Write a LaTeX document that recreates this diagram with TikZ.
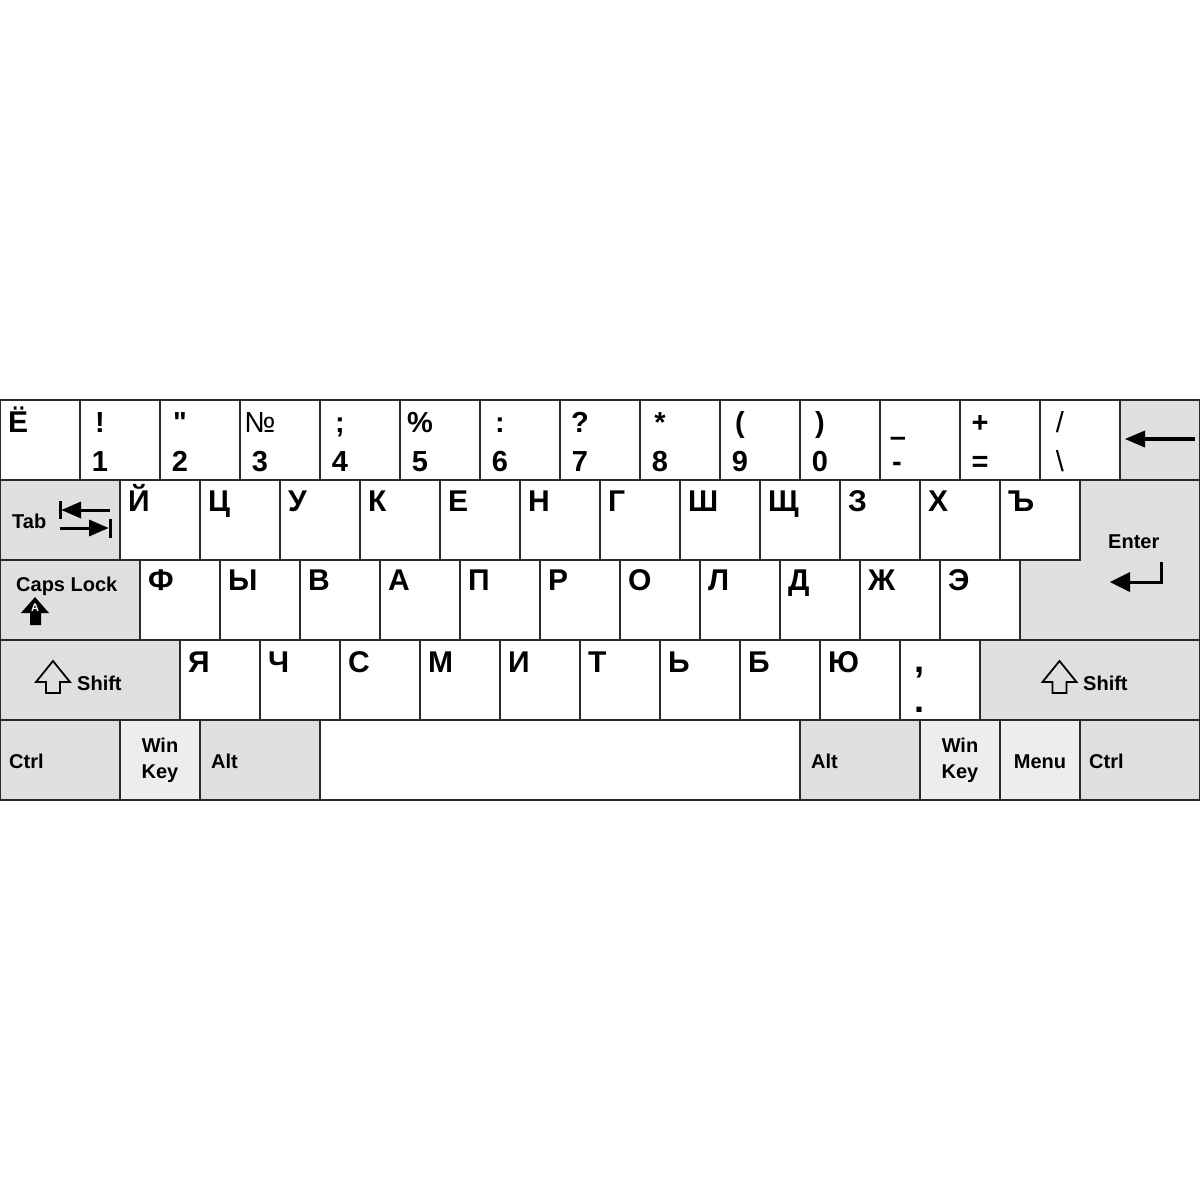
\documentclass[tikz,border=0pt]{standalone}
\usepackage{fontspec}
\setmainfont{Liberation Sans}
\newfontfamily\qfont{Liberation Sans}[Ligatures=TeXOff]
\usetikzlibrary{calc}
\definecolor{keygray}{HTML}{DFDFDF}
\definecolor{keylight}{HTML}{EDEDED}
\definecolor{keyline}{HTML}{2A2A2A}
\tikzset{
  keybox/.style={draw=keyline, line width=1.5pt, fill=white, rectangle, inner sep=0pt, outer sep=0pt, minimum height=80pt, anchor=north west},
  graykey/.style={keybox, fill=keygray},
  lightkey/.style={keybox, fill=keylight},
  biglab/.style={font=\fontsize{30}{30}\selectfont\bfseries, inner sep=0pt, anchor=base west},
  symlab/.style={font=\fontsize{29}{29}\selectfont\bfseries, inner sep=0pt, anchor=base},
  punclab/.style={font=\fontsize{36}{36}\selectfont\bfseries, inner sep=0pt, anchor=base},
  smalllab/.style={font=\fontsize{20}{20}\selectfont\bfseries, inner sep=0pt, anchor=base west},
  smallc/.style={font=\fontsize{20}{20}\selectfont\bfseries, inner sep=0pt, anchor=base},
  icon/.style={fill=black, draw=none},
  iconline/.style={draw=black, line width=3pt},
  outlinearrow/.style={draw=black, line width=1.8pt, fill=keygray, line join=miter},
}
\newcommand\tkey[4]{%
  \node[keybox, minimum width=80pt] (#1) at (#2,400) {};
  \node[symlab] at ($(#1.north west)+(20,32)$) {#3};
  \node[symlab] at ($(#1.north west)+(20,71)$) {#4};}
\newcommand\lkey[5]{%
  \node[keybox, minimum width=80pt] (#1) at (#2,#3) {};
  \node[biglab] at ($(#1.north west)+(8,#4)$) {#5};}
\begin{document}
\begin{tikzpicture}[x=1pt,y=-1pt]
\useasboundingbox (0,0) rectangle (1200,1200);
\fill[white] (0,0) rectangle (1200,1200);

% ---------- Row 1 ----------
\node[keybox, minimum width=80pt] (kyo) at (0,400) {};
\node[biglab] at ($(kyo.north west)+(8,32)$) {Ё};
\tkey{k1}{80}{!}{1}
\tkey{k2}{160}{\qfont\bfseries "}{2}
\tkey{k3}{240}{\mdseries №}{3}
\tkey{k4}{320}{;}{4}
\tkey{k5}{400}{\%}{5}
\tkey{k6}{480}{:}{6}
\tkey{k7}{560}{?}{7}
\tkey{k8}{640}{*}{8}
\tkey{k9}{720}{(}{9}
\tkey{k0}{800}{)}{0}
\node[keybox, minimum width=80pt] (kminus) at (880,400) {};
\node[symlab] at ($(kminus.north west)+(18,46)$) {\textendash};
\node[symlab] at ($(kminus.north west)+(17,71)$) {-};
\tkey{kequal}{960}{+}{=}
\tkey{kslash}{1040}{\mdseries /}{\mdseries \textbackslash}
\node[graykey, minimum width=80pt] (bksp) at (1120,400) {};
\begin{scope}[shift={(bksp.north west)}]
  \fill[icon] (5,39) -- (25,30.5) -- (25,47.5) -- cycle;
  \draw[iconline, line width=3.5pt] (22,39) -- (75,39);
\end{scope}

% ---------- Row 2 ----------
\node[graykey, minimum width=120pt] (tab) at (0,480) {};
\node[smalllab] at ($(tab.north west)+(12,48)$) {Tab};
\begin{scope}[shift={(tab.north west)}]
  \draw[iconline] (60,21) -- (60,39);
  \fill[icon] (61.5,30) -- (81,21.5) -- (81,38.5) -- cycle;
  \draw[iconline, line width=3pt] (78,30) -- (110,30);
  \draw[iconline, line width=3pt] (60,48) -- (92,48);
  \fill[icon] (108.5,48) -- (89,39.5) -- (89,56.5) -- cycle;
  \draw[iconline] (110,39) -- (110,58);
\end{scope}
\lkey{kJ}{120}{480}{31}{Й}
\lkey{kC}{200}{480}{31}{Ц}
\lkey{kU}{280}{480}{31}{У}
\lkey{kK}{360}{480}{31}{К}
\lkey{kE}{440}{480}{31}{Е}
\lkey{kN}{520}{480}{31}{Н}
\lkey{kG}{600}{480}{31}{Г}
\lkey{kSh}{680}{480}{31}{Ш}
\lkey{kSch}{760}{480}{31}{Щ}
\lkey{kZ}{840}{480}{31}{З}
\lkey{kH}{920}{480}{31}{Х}
\lkey{kHard}{1000}{480}{31}{Ъ}

% ---------- Enter ----------
\coordinate (enter) at (1080,480);
\draw[draw=keyline, line width=1.5pt, fill=keygray]
  (enter) -- ++(120,0) -- ++(0,160) -- ++(-180,0) -- ++(0,-80) -- ++(60,0) -- cycle;
\begin{scope}[shift={(enter)}]
  \node[smalllab] at (28,68) {Enter};
  \draw[iconline, line join=miter] (81,82) -- (81,102) -- (47,102);
  \fill[icon] (30,102) -- (50,92) -- (50,112) -- cycle;
\end{scope}

% ---------- Row 3 ----------
\node[graykey, minimum width=140pt] (caps) at (0,560) {};
\node[smalllab] at ($(caps.north west)+(16,31)$) {Caps Lock};
\begin{scope}[shift={(caps.north west)}]
  \fill[icon] (35,37) -- (49,53) -- (41,53) -- (41,65) -- (30,65) -- (30,53) -- (21,53) -- cycle;
  \node[font=\fontsize{11}{11}\selectfont\bfseries, text=white, inner sep=0pt, anchor=base] at (35,51) {A};
\end{scope}
\lkey{kF}{140}{560}{30}{Ф}
\lkey{kY}{220}{560}{30}{Ы}
\lkey{kV}{300}{560}{30}{В}
\lkey{kA}{380}{560}{30}{А}
\lkey{kP}{460}{560}{30}{П}
\lkey{kR}{540}{560}{30}{Р}
\lkey{kO}{620}{560}{30}{О}
\lkey{kL}{700}{560}{30}{Л}
\lkey{kD}{780}{560}{30}{Д}
\lkey{kZh}{860}{560}{30}{Ж}
\lkey{kEe}{940}{560}{30}{Э}

% ---------- Row 4 ----------
\node[graykey, minimum width=180pt] (lshift) at (0,640) {};
\begin{scope}[shift={(lshift.north west)}]
  \draw[outlinearrow] (53,21) -- (70,42) -- (60,42) -- (60,53) -- (46,53) -- (46,42) -- (36,42) -- cycle;
  \node[smalllab] at (77,50) {Shift};
\end{scope}
\lkey{kYa}{180}{640}{32}{Я}
\lkey{kCh}{260}{640}{32}{Ч}
\lkey{kS}{340}{640}{32}{С}
\lkey{kM}{420}{640}{32}{М}
\lkey{kI}{500}{640}{32}{И}
\lkey{kT}{580}{640}{32}{Т}
\lkey{kSoft}{660}{640}{32}{Ь}
\lkey{kB}{740}{640}{32}{Б}
\lkey{kYu}{820}{640}{32}{Ю}
\node[keybox, minimum width=80pt] (kcomma) at (900,640) {};
\node[punclab] at ($(kcomma.north west)+(19,32)$) {,};
\node[punclab] at ($(kcomma.north west)+(19,72)$) {.};
\node[graykey, minimum width=220pt] (rshift) at (980,640) {};
\begin{scope}[shift={(rshift.north west)}]
  \draw[outlinearrow] (79.5,21) -- (96.5,42) -- (86.5,42) -- (86.5,53) -- (72.5,53) -- (72.5,42) -- (62.5,42) -- cycle;
  \node[smalllab] at (103,50) {Shift};
\end{scope}

% ---------- Row 5 ----------
\node[graykey, minimum width=120pt] (lctrl) at (0,720) {};
\node[smalllab] at ($(lctrl.north west)+(9,48)$) {Ctrl};
\node[lightkey, minimum width=80pt] (lwin) at (120,720) {};
\node[smallc] at ($(lwin.north west)+(40,32)$) {Win};
\node[smallc] at ($(lwin.north west)+(40,58)$) {Key};
\node[graykey, minimum width=120pt] (lalt) at (200,720) {};
\node[smalllab] at ($(lalt.north west)+(11,48)$) {Alt};
\node[keybox, minimum width=480pt] (space) at (320,720) {};
\node[graykey, minimum width=120pt] (ralt) at (800,720) {};
\node[smalllab] at ($(ralt.north west)+(11,48)$) {Alt};
\node[lightkey, minimum width=80pt] (rwin) at (920,720) {};
\node[smallc] at ($(rwin.north west)+(40,32)$) {Win};
\node[smallc] at ($(rwin.north west)+(40,58)$) {Key};
\node[lightkey, minimum width=80pt] (menu) at (1000,720) {};
\node[smallc] at ($(menu.north west)+(40,48)$) {Menu};
\node[graykey, minimum width=120pt] (rctrl) at (1080,720) {};
\node[smalllab] at ($(rctrl.north west)+(9,48)$) {Ctrl};
\end{tikzpicture}
\end{document}
